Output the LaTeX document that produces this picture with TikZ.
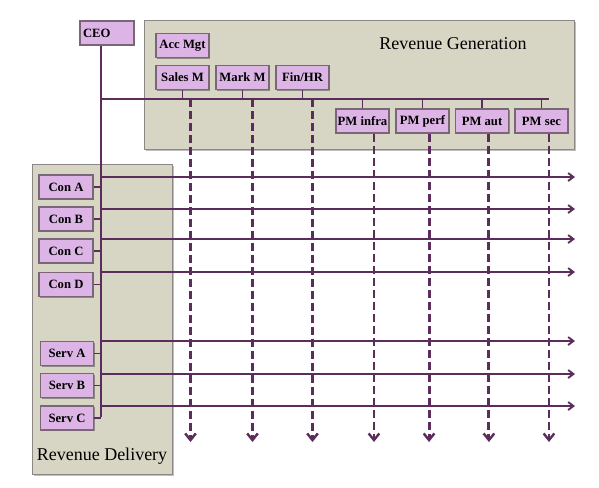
\documentclass[tikz,border=0pt]{standalone}
\usepackage{fontspec}
\setmainfont{Liberation Serif}
\usetikzlibrary{arrows.meta,shadows}
\definecolor{boxfill}{HTML}{DDB4E6}
\definecolor{boxline}{HTML}{7A6676}
\definecolor{panelfill}{HTML}{D7D6C5}
\definecolor{panelline}{HTML}{8C8785}
\definecolor{wire}{HTML}{5C2D5C}
\begin{document}
\begin{tikzpicture}[x=0.75pt,y=-0.75pt,
  box/.style={draw=boxline, line width=1pt, fill=boxfill, minimum width=39.75pt,
    minimum height=18pt, inner sep=0pt, font=\fontsize{9.5}{11}\selectfont\bfseries,
    drop shadow={shadow xshift=0.9pt, shadow yshift=-0.9pt, opacity=0.35, fill=black}},
  panel/.style={draw=panelline, line width=1pt, fill=panelfill, anchor=north west, inner sep=0pt,
    drop shadow={shadow xshift=1pt, shadow yshift=-1pt, opacity=0.25, fill=black}},
  wireline/.style={draw=wire, line width=1.4pt},
  harrow/.style={draw=wire, line width=1.4pt, -{Straight Barb[length=4pt,width=6pt,line width=1.4pt]}},
  varrow/.style={draw=wire, line width=2.2pt, dash pattern=on 6pt off 3pt,
    -{Straight Barb[length=5pt,width=8pt,line width=1.8pt]}},
  paneltitle/.style={font=\fontsize{13.5}{16}\selectfont, inner sep=0pt}
]
\useasboundingbox (0,0) rectangle (599,487);

% panels
\node[panel, minimum width=322.5pt, minimum height=96.75pt] (rg) at (144,20) {};
\node[panel, minimum width=105pt, minimum height=232.5pt] (rd) at (32,164) {};
\node[paneltitle] (rgt) at (453,44) {Revenue Generation};
\node[paneltitle] (rdt) at (102,456) {Revenue Delivery};

% coordinates
\coordinate (barL) at (101,99);
\coordinate (barR) at (549,99);
\coordinate (vend) at (101,417);
\coordinate (vbot) at (0,442);
\coordinate (hend) at (575,0);

% boxes
\node[box, minimum width=40.5pt, text width=36pt, align=left] (ceo) at (107,33) {CEO};
\node[box] (acc) at (182.5,45.5) {Acc Mgt};
\node[box] (sales) at (182.5,77.5) {Sales M};
\node[box] (mark) at (242.5,77.5) {Mark M};
\node[box] (fin) at (302.5,77.5) {Fin/HR};
\node[box] (pmi) at (362.5,121) {PM infra};
\node[box] (pmp) at (422.5,121) {PM perf};
\node[box] (pma) at (482,121) {PM aut};
\node[box] (pms) at (541.5,121) {PM sec};
\node[box, minimum width=40.5pt] (cona) at (66,187) {Con A};
\node[box, minimum width=40.5pt] (conb) at (66,219) {Con B};
\node[box, minimum width=40.5pt] (conc) at (66,251) {Con C};
\node[box, minimum width=40.5pt] (cond) at (66,284.5) {Con D};
\node[box] (serva) at (67,353.5) {Serv A};
\node[box] (servb) at (67,385.5) {Serv B};
\node[box] (servc) at (67,418) {Serv C};

% main tree lines
\begin{scope}[on background layer/.style={}]
\end{scope}
\draw[wireline] (ceo.south -| barL) -- (vend);
\draw[wireline] (barL) -- (barR);
\foreach \n in {sales,mark,fin}{\draw[wireline] (\n.south) -- (\n.south |- barL);}
\foreach \n in {pmi,pmp,pma,pms}{\draw[wireline] (\n.north) -- (\n.north |- barL);}
\foreach \n in {cona,conb,conc,cond,serva,servb,servc}{\draw[wireline] (\n.east) -- (\n.east -| barL);}

% horizontal arrows
\foreach \y in {177,209,239,272,341,374,406}{
  \coordinate (hs\y) at (101,\y);
  \draw[harrow] (hs\y) -- (hs\y -| hend);
}

% vertical dashed arrows
\draw[varrow] ([xshift=6pt]sales.south |- barL) -- ([xshift=6pt]sales.south |- vbot);
\draw[varrow] ([xshift=7.5pt]mark.south |- barL) -- ([xshift=7.5pt]mark.south |- vbot);
\draw[varrow] ([xshift=7.5pt]fin.south |- barL) -- ([xshift=7.5pt]fin.south |- vbot);
\draw[varrow] ([xshift=8.6pt]pmi.south) -- ([xshift=8.6pt]pmi.south |- vbot);
\draw[varrow] ([xshift=4.9pt]pmp.south) -- ([xshift=4.9pt]pmp.south |- vbot);
\draw[varrow] ([xshift=5.2pt]pma.south) -- ([xshift=5.2pt]pma.south |- vbot);
\draw[varrow] ([xshift=5.6pt]pms.south) -- ([xshift=5.6pt]pms.south |- vbot);
\end{tikzpicture}
\end{document}
